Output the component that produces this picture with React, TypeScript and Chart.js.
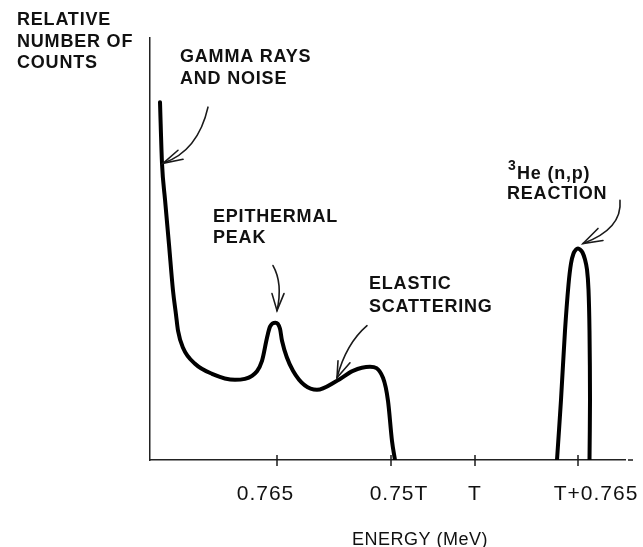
import React, { useEffect, useRef } from "react";
import { Chart, registerables } from "chart.js";

Chart.register(...registerables);

// Energy axis positions (arbitrary linear units) and counts (relative)
const spectrumX = [10, 12, 15, 19, 23, 26, 28, 33, 45, 62, 85, 102, 112, 117, 120, 125.5, 130, 132, 143, 167, 187, 203, 220, 233, 238, 242, 245];
const spectrumY = [357, 296, 260, 215, 169, 145, 129, 112, 96, 86, 80, 84, 99, 122, 133, 137, 131, 119, 89, 70, 79, 89, 93, 82, 59, 19, 0];

const reactionX = [407, 411, 415, 418.5, 421, 423.5, 426, 428, 430, 432.5, 435, 437, 438.5, 439.5, 440, 439.5];
const reactionY = [0, 60, 129, 175, 196, 206, 210, 211, 210, 207, 200, 190, 170, 129, 60, 0];

const tickValues = [127, 241, 325, 428];
const tickLabels = ["0.765", "0.75T", "T", "T+0.765"];
const tickLabelCenters = [115.5, 249, 325, 446];

const X_MAX = 475;
const Y_MAX = 421;

type Txt = { t: string; x: number; y: number; size?: number; align?: CanvasTextAlign };
const annotations: Txt[] = [
  { t: "RELATIVE", x: -133, y: 434 },
  { t: "NUMBER OF", x: -133, y: 412 },
  { t: "COUNTS", x: -133, y: 391 },
  { t: "GAMMA RAYS", x: 30, y: 397 },
  { t: "AND NOISE", x: 30, y: 375 },
  { t: "EPITHERMAL", x: 63, y: 237 },
  { t: "PEAK", x: 63, y: 216 },
  { t: "ELASTIC", x: 219, y: 171 },
  { t: "SCATTERING", x: 219, y: 148 },
  { t: "3", x: 358, y: 289, size: 14 },
  { t: "He (n,p)", x: 367, y: 280 },
  { t: "REACTION", x: 357, y: 260 },
];

type Arrow = { p0: [number, number]; c: [number, number]; p2: [number, number]; h1: [number, number]; h2: [number, number] };
const arrows: Arrow[] = [
  { p0: [58, 352], c: [48, 308], p2: [13, 296], h1: [28, 309], h2: [33, 300] },
  { p0: [123, 194], c: [133, 176.5], p2: [127, 149], h1: [122, 166], h2: [134, 166] },
  { p0: [217, 134], c: [196, 116], p2: [187, 82], h1: [188, 99], h2: [200, 97] },
  { p0: [470, 259], c: [472.5, 230.5], p2: [433, 216], h1: [448, 231], h2: [453, 219] },
];

const FONT = `"Liberation Sans", Arial, sans-serif`;

const overlay = {
  id: "overlay",
  afterDraw(chart: any) {
    const ctx: CanvasRenderingContext2D = chart.ctx;
    const xs = chart.scales.x;
    const ys = chart.scales.y;
    const px = (v: number) => xs.getPixelForValue(v);
    const py = (v: number) => ys.getPixelForValue(v);
    ctx.save();
    ctx.strokeStyle = "#1a1a1a";
    ctx.fillStyle = "#111";
    ctx.lineWidth = 1.5;
    const y0 = py(0);
    tickValues.forEach((v) => {
      ctx.beginPath();
      ctx.moveTo(px(v), y0 - 5);
      ctx.lineTo(px(v), y0 + 6);
      ctx.stroke();
    });
    ctx.beginPath();
    ctx.moveTo(px(X_MAX) + 3, y0);
    ctx.lineTo(px(X_MAX) + 8, y0);
    ctx.stroke();
    ctx.lineWidth = 1.6;
    ctx.lineCap = "round";
    arrows.forEach((a) => {
      ctx.beginPath();
      ctx.moveTo(px(a.p0[0]), py(a.p0[1]));
      ctx.quadraticCurveTo(px(a.c[0]), py(a.c[1]), px(a.p2[0]), py(a.p2[1]));
      ctx.stroke();
      ctx.beginPath();
      ctx.moveTo(px(a.h1[0]), py(a.h1[1]));
      ctx.lineTo(px(a.p2[0]), py(a.p2[1]));
      ctx.lineTo(px(a.h2[0]), py(a.h2[1]));
      ctx.stroke();
    });
    ctx.textBaseline = "alphabetic";
    (ctx as any).letterSpacing = "0.8px";
    annotations.forEach((a) => {
      ctx.font = `bold ${a.size ?? 18}px ${FONT}`;
      ctx.textAlign = a.align ?? "left";
      ctx.fillText(a.t, px(a.x), py(a.y));
    });
    (ctx as any).letterSpacing = "1px";
    ctx.font = `21px ${FONT}`;
    ctx.textAlign = "center";
    tickLabels.forEach((l, i) => {
      ctx.fillText(l, px(tickLabelCenters[i]), py(-40));
    });
    (ctx as any).letterSpacing = "0.5px";
    ctx.font = `18px ${FONT}`;
    ctx.textAlign = "left";
    ctx.fillText("ENERGY (MeV)", px(202), py(-85));
    ctx.restore();
  },
};

export default function App() {
  const ref = useRef<HTMLCanvasElement | null>(null);
  useEffect(() => {
    if (!ref.current) return;
    const chart = new Chart(ref.current, {
      type: "line",
      data: {
        datasets: [
          {
            data: spectrumX.map((x, i) => ({ x, y: spectrumY[i] })),
            borderColor: "#000",
            borderWidth: 4,
            pointRadius: 0,
            cubicInterpolationMode: "monotone",
            fill: false,
            borderCapStyle: "round",
            borderJoinStyle: "round",
          },
          {
            data: reactionX.map((x, i) => ({ x, y: reactionY[i] })),
            borderColor: "#000",
            borderWidth: 4,
            pointRadius: 0,
            tension: 0.3,
            fill: false,
            borderCapStyle: "round",
            borderJoinStyle: "round",
          },
        ],
      },
      options: {
        responsive: false,
        animation: false,
        layout: { padding: { left: 142, right: 18, top: 38, bottom: 79 } },
        plugins: { legend: { display: false }, tooltip: { enabled: false } },
        scales: {
          x: {
            type: "linear",
            min: 0,
            max: X_MAX,
            grid: { display: false },
            ticks: { display: false },
            border: { display: true, color: "#222", width: 1.5 },
          },
          y: {
            type: "linear",
            min: 0,
            max: Y_MAX,
            grid: { display: false },
            ticks: { display: false },
            border: { display: true, color: "#222", width: 1.5 },
          },
        },
      },
      plugins: [overlay],
    });
    return () => chart.destroy();
  }, []);
  return (
    <div style={{ position: "fixed", left: 0, top: 0, width: 643, height: 547, background: "#fff" }}>
      <canvas ref={ref} width={643} height={547} style={{ width: 643, height: 547 }} />
    </div>
  );
}
